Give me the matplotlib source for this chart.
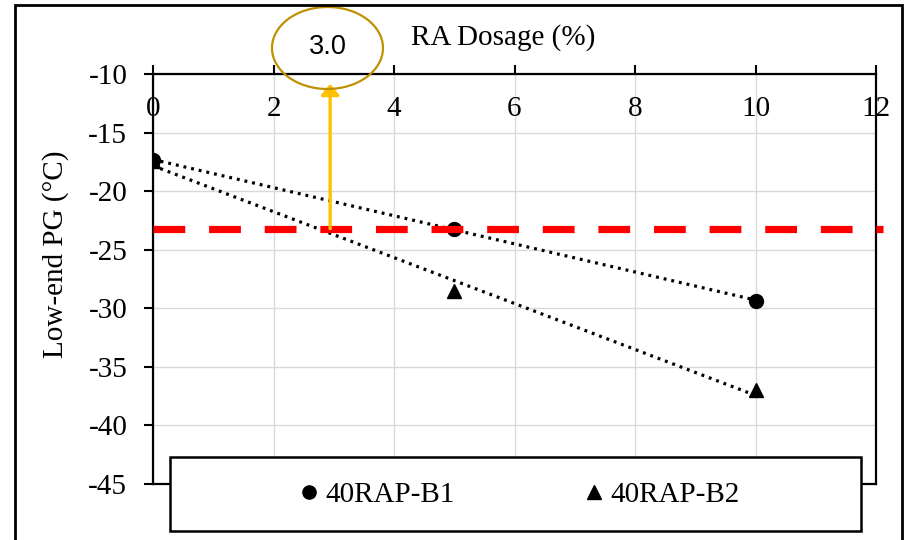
import matplotlib
matplotlib.use('Agg')
import matplotlib.pyplot as plt
import numpy as np
from matplotlib.patches import Ellipse, Rectangle

# ---- data ----
ra_dosage = [0, 5, 10]
pg_b1 = [-17.35, -23.2, -29.35]
pg_b2 = [-17.4, -28.5, -37.0]
series_names = ['40RAP-B1', '40RAP-B2']
x_ticks = [0, 2, 4, 6, 8, 10, 12]
x_tick_labels = ['0', '2', '4', '6', '8', '10', '12']
y_ticks = [-10, -15, -20, -25, -30, -35, -40, -45]
y_tick_labels = ['-10', '-15', '-20', '-25', '-30', '-35', '-40', '-45']
threshold_pg = -23.2
target_dosage = 2.94
target_label = '3.0'
x_label = 'RA Dosage (%)'
y_label = 'Low-end PG (°C)'

plt.rcParams['font.family'] = ['Liberation Serif', 'DejaVu Serif']
FS = 21

W, H = 907, 540
fig = plt.figure(figsize=(W / 100, H / 100), dpi=100)
fig.patch.set_facecolor('white')
ax = fig.add_axes([153 / W, 56 / H, 723 / W, 410 / H])
ax.set_xlim(0, 12)
ax.set_ylim(-45, -10)

# grid
ax.grid(True, color='#D9D9D9', lw=1.0)
ax.set_axisbelow(True)
for sp in ax.spines.values():
    sp.set_linewidth(1.6)
    sp.set_color('black')

# ticks
ax.set_xticks(x_ticks)
ax.set_xticklabels([])
ax.tick_params(axis='x', top=True, bottom=False, labeltop=False, labelbottom=False,
               direction='out', length=6.5, width=1.5)
for t, lab in zip(x_ticks, x_tick_labels):
    ax.annotate(lab, xy=(t, 1), xycoords=('data', 'axes fraction'),
                xytext=(0, -25.5), textcoords='offset points',
                ha='center', va='center', fontsize=FS, annotation_clip=False)
ax.set_yticks(y_ticks)
ax.set_yticklabels(y_tick_labels, fontsize=FS)
ax.tick_params(axis='y', left=True, right=False, direction='out', length=6.5,
               width=1.5, pad=12)

# labels
ax.xaxis.set_label_position('top')
ax.set_xlabel(x_label, fontsize=FS)
ax.xaxis.set_label_coords(0.4848, 1.0878)
ax.xaxis.label.set_va('center')
ax.set_ylabel(y_label, fontsize=FS)
ax.yaxis.set_label_coords(-0.1342, 0.561)
ax.yaxis.label.set_va('center')

# series + trendlines
h2, = ax.plot(ra_dosage, pg_b2, '^', color='black', ms=10, zorder=3,
              label=series_names[1])
h1, = ax.plot(ra_dosage, pg_b1, 'o', color='black', ms=10, zorder=3,
              label=series_names[0])
for ys in (pg_b1, pg_b2):
    coef = np.polyfit(ra_dosage, ys, 1)
    xs = np.array([min(ra_dosage), max(ra_dosage)])
    ax.plot(xs, np.polyval(coef, xs), color='black', lw=2.3,
            ls=(0, (0.9, 1.55)), zorder=2.5)

# threshold line
ax.axhline(threshold_pg, xmin=0, xmax=1.0097, color='#FF0000', lw=5.2,
           ls=(0, (4.4, 3.3)), dash_capstyle='butt', clip_on=False, zorder=4)

# arrow + ellipse annotation
ax.annotate('', xy=(target_dosage, -10.85), xytext=(target_dosage, threshold_pg),
            arrowprops=dict(arrowstyle='-|>,head_length=0.65,head_width=0.55',
                            color='#FFC000', lw=2.4, shrinkA=0, shrinkB=0),
            annotation_clip=False, zorder=5)
ell = Ellipse((2.896, -7.78), width=1.842, height=7.0, fill=False,
              edgecolor='#BF9000', lw=1.6, clip_on=False, zorder=5)
ax.add_patch(ell)
ax.text(2.896, -7.7, target_label, fontfamily=['Liberation Sans', 'DejaVu Sans'],
        fontsize=19.5, ha='center', va='center', clip_on=False, zorder=6)

# legend box + legend
box = Rectangle((17 / 723, -47 / 410), 691 / 723, 74 / 410, transform=ax.transAxes,
                facecolor='white', edgecolor='black', lw=1.8, clip_on=False, zorder=4.5)
ax.add_patch(box)
leg = ax.legend(handles=[h1, h2], labels=series_names, loc='center',
                bbox_to_anchor=(0.5076, -0.0268), ncol=2, frameon=False, fontsize=FS,
                handlelength=0.6, handletextpad=0.26, columnspacing=4.47,
                markerscale=0.95, borderaxespad=0)
leg.set_zorder(6)

# outer frame
fig.add_artist(Rectangle((15 / W, -0.02), (902 - 15) / W, 1.02 - 5 / H,
                         transform=fig.transFigure, fill=False, edgecolor='black', lw=2))

fig.savefig('out.png', dpi=100)
